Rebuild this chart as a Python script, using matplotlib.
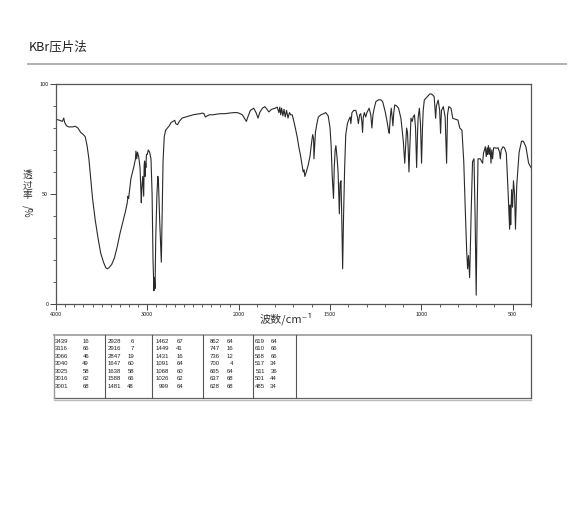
import numpy as np
import matplotlib
matplotlib.use('Agg')
import matplotlib.pyplot as plt
from matplotlib.lines import Line2D

plt.rcParams['font.family'] = ['Noto Sans CJK SC', 'DejaVu Sans']

# IR spectrum, KBr pellet: wavenumber (cm-1) and transmittance (%)
wn = [4000, 3960, 3930, 3915, 3905, 3885, 3860, 3820, 3790, 3760, 3730, 3700,
      3680, 3660, 3640, 3620, 3600, 3570, 3540, 3510, 3480, 3455, 3439, 3420,
      3390, 3360, 3330, 3300, 3270, 3240, 3220, 3212, 3205, 3180, 3150, 3130,
      3125, 3116, 3108, 3095, 3080, 3072, 3066, 3060, 3050, 3040, 3035, 3030,
      3025, 3020, 3016, 3010, 3001, 2990, 2975, 2960, 2948, 2938, 2928, 2922,
      2916, 2908, 2895, 2885, 2878, 2865, 2847, 2838, 2828, 2815, 2800, 2780,
      2760, 2740, 2720, 2700, 2690, 2670, 2650, 2620, 2580, 2540, 2500, 2460,
      2420, 2400, 2380, 2365, 2345, 2320, 2280, 2240, 2200, 2150, 2100, 2050,
      2020, 2000, 1980, 1965, 1958, 1950, 1936, 1918, 1905, 1894, 1885, 1870,
      1857, 1845, 1835, 1820, 1800, 1789, 1780, 1775, 1770, 1765, 1758, 1752,
      1745, 1738, 1730, 1722, 1715, 1707, 1698, 1690, 1680, 1670, 1662, 1655,
      1647, 1642, 1638, 1630, 1620, 1610, 1600, 1595, 1590, 1588, 1584, 1580,
      1572, 1564, 1550, 1535, 1524, 1510, 1500, 1494, 1488, 1481, 1477, 1472,
      1468, 1462, 1456, 1449, 1445, 1440, 1436, 1431, 1426, 1420, 1414, 1405,
      1396, 1390, 1386, 1380, 1370, 1359, 1350, 1345, 1338, 1332, 1326, 1322,
      1318, 1312, 1305, 1298, 1286, 1277, 1271, 1265, 1258, 1249, 1235, 1222,
      1212, 1198, 1188, 1180, 1176, 1170, 1165, 1160, 1156, 1151, 1146, 1135,
      1125, 1112, 1104, 1099, 1091, 1086, 1081, 1076, 1072, 1068, 1063, 1057,
      1050, 1045, 1038, 1032, 1026, 1021, 1018, 1011, 1005, 999, 994, 990,
      984, 970, 955, 947, 938, 930, 925, 922, 918, 908, 900, 895, 890, 880,
      870, 862, 857, 850, 838, 828, 800, 790, 778, 768, 760, 752, 747, 742,
      736, 732, 727, 720, 712, 706, 700, 695, 690, 678, 665, 660, 650, 645,
      640, 637, 633, 628, 624, 619, 615, 610, 605, 598, 590, 580, 572, 568,
      563, 553, 545, 535, 527, 517, 514, 511, 506, 501, 496, 490, 485, 478,
      465, 452, 442, 428, 413, 400]
trans = [84, 83.5, 83, 84.5, 82.5, 81, 80.5, 80.5, 80.8, 80, 78, 77,
         76, 72, 66, 57, 48, 38, 30, 23, 19, 16.5, 16, 16.5,
         18, 21, 26, 32, 37, 42, 46, 49, 48, 57, 62, 66,
         69.5, 66, 69, 67, 62, 52, 46, 53, 58, 49, 63, 65,
         58, 64, 62, 68, 68, 70, 69, 66, 50, 20, 6, 12,
         7, 30, 50, 58, 55, 38, 19, 40, 65, 76, 79, 80,
         81, 82.5, 83, 83.5, 82, 81.5, 83, 84.5, 85, 85.5, 86, 86.3,
         86.5, 86.8, 86.5, 85, 85.5, 86, 86, 86.3, 86.5, 86.5, 86.8, 87,
         87, 86.8, 86, 84, 83, 85, 88, 89, 87, 84.5, 87, 89,
         89.7, 88.5, 87.3, 88.5, 89, 89.5, 87, 89.5, 86, 89, 85.5, 88.5,
         85, 88, 84.5, 87, 86, 86, 83, 80, 76, 71, 67.7, 64,
         60, 61, 58, 60, 63, 67, 74, 77, 75, 66, 72, 78,
         82, 85, 86, 86.5, 87, 85.5, 80, 72, 58, 48, 62, 70,
         72, 67, 60, 41, 55, 56, 40, 16, 40, 62, 77, 82,
         84, 85, 82, 87, 88, 88, 85, 82, 86, 86.5, 83, 78,
         85, 87, 85, 87, 89, 86, 80, 86, 89, 92, 92.8, 92.8,
         92, 87.4, 83, 79, 77.6, 85, 89, 85, 81, 87, 90.5, 90,
         89, 84.4, 78, 74, 64, 72, 80, 78, 70, 60, 72, 84.4,
         83, 85, 86, 80, 62, 78, 84.4, 89, 82, 64, 80, 88,
         92.7, 94, 95.4, 95.5, 95, 94.2, 88, 84.4, 90, 92.7, 88, 77.6, 88, 89.7,
         85, 64, 86, 89.7, 89, 84.4, 83.6, 80, 79, 64.7, 43.5, 24, 16, 22,
         12, 25, 43.5, 64.7, 66, 40, 4, 40, 66, 66, 64, 68.5, 71.5, 67,
         71, 68, 72, 68, 71, 64, 70, 66, 71, 71, 70.8, 71, 69, 66,
         70, 71.5, 71, 68.5, 54, 34, 45, 36, 52, 44, 56, 50, 34, 54,
         69, 74, 74, 71.5, 64, 62]

# peak table (wavenumber, %T), five columns of seven
peak_wn = [[3439, 3116, 3066, 3040, 3025, 3016, 3001],
           [2928, 2916, 2847, 1647, 1638, 1588, 1481],
           [1462, 1449, 1431, 1091, 1068, 1026, 999],
           [862, 747, 736, 700, 665, 637, 628],
           [619, 610, 568, 517, 511, 501, 485]]
peak_t = [[16, 66, 46, 49, 58, 62, 68],
          [6, 7, 19, 60, 58, 66, 48],
          [67, 41, 16, 64, 60, 62, 64],
          [64, 16, 12, 4, 64, 68, 68],
          [64, 66, 66, 34, 36, 44, 34]]

x_ticks = [4000, 3000, 2000, 1500, 1000, 500]
y_ticks = [0, 50, 100]

W, H = 570, 511


def fx(x):
    return x / W


def fy(y):
    return 1 - y / H


# wavenumber axis: 4000-2000 is compressed to half scale
def fwd(w):
    w = np.asarray(w, dtype=float)
    return np.where(w > 2000, 2000 + (w - 2000) / 2.0, w)


def inv(u):
    u = np.asarray(u, dtype=float)
    return np.where(u > 2000, 2000 + (u - 2000) * 2.0, u)


fig = plt.figure(figsize=(W / 100, H / 100), dpi=100)
ax = fig.add_axes([fx(56), fy(304), (531 - 56) / W, (304 - 84) / H])

ax.plot(wn, trans, color='#2a2a2a', lw=0.8)
ax.set_xscale('function', functions=(fwd, inv))
ax.set_xlim(4000, 400)
ax.set_ylim(0, 100)

ax.set_xticks(x_ticks)
ax.set_xticklabels([str(t) for t in x_ticks])
ax.set_xticks([t for t in range(400, 4001, 100) if t not in x_ticks], minor=True)
ax.set_yticks(y_ticks)
ax.set_yticklabels([str(t) for t in y_ticks])
ax.set_yticks(range(10, 100, 10), minor=True)
ax.tick_params(which='major', length=4, width=0.7, color='#444', labelsize=4,
               pad=1.5, labelcolor='#222')
ax.tick_params(which='minor', length=2.5, width=0.6, color='#444')
for s in ax.spines.values():
    s.set_color('#555')
    s.set_linewidth(0.9)

# title and rule
fig.text(fx(29), fy(47), 'KBr压片法', fontsize=9, ha='left', va='center',
         color='#222')
fig.add_artist(Line2D([fx(28), fx(566)], [fy(64), fy(64)], color='#b0b0b0',
                      lw=1.4))

# axis labels
fig.text(fx(286), fy(319), '波数/cm⁻¹', fontsize=8, ha='center',
         va='center', color='#333')
fig.text(fx(27), fy(185), '透\n过\n率', fontsize=7, ha='center', va='center',
         linespacing=1.05, color='#333')
fig.text(fx(27), fy(211), '/%', fontsize=7, ha='center', va='center',
         rotation=270, color='#333')

# peak table
top, bot, left, right = 335, 398, 54, 531
dividers = [105, 152, 203, 253, 296]
wn_right = [68, 121, 169, 220, 265]
t_right = [89, 134, 183, 233, 277]
fig.add_artist(Line2D([fx(left), fx(right)], [fy(top), fy(top)],
                      color='#a8a8a8', lw=1.4))
fig.add_artist(Line2D([fx(left), fx(right)], [fy(bot), fy(bot)],
                      color='#666', lw=0.9))
fig.add_artist(Line2D([fx(left), fx(right)], [fy(bot + 1.5), fy(bot + 1.5)],
                      color='#bbb', lw=1.0))
fig.add_artist(Line2D([fx(left), fx(left)], [fy(top), fy(bot)],
                      color='#999', lw=1.0))
fig.add_artist(Line2D([fx(right), fx(right)], [fy(top), fy(bot)],
                      color='#555', lw=0.9))
for d in dividers:
    fig.add_artist(Line2D([fx(d), fx(d)], [fy(top), fy(bot)], color='#555',
                          lw=0.8))
row_y = [341 + 7.5 * i for i in range(7)]
for c in range(5):
    for r in range(7):
        fig.text(fx(wn_right[c]), fy(row_y[r]), str(peak_wn[c][r]),
                 fontsize=4.3, ha='right', va='center', color='#222',
                 family='Liberation Sans')
        fig.text(fx(t_right[c]), fy(row_y[r]), str(peak_t[c][r]),
                 fontsize=4.3, ha='right', va='center', color='#222',
                 family='Liberation Sans')

fig.savefig('out.png', dpi=100)
